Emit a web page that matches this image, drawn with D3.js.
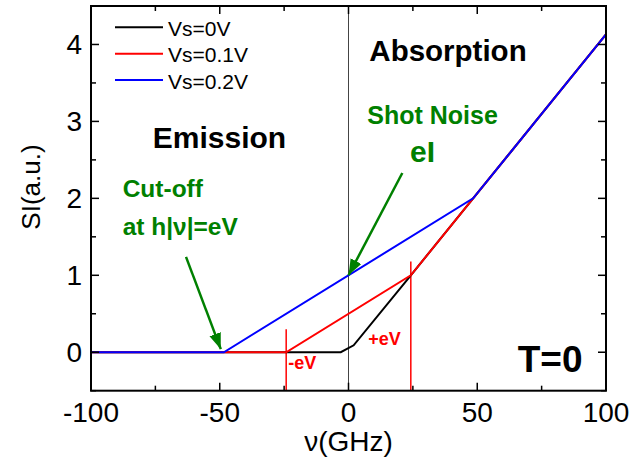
<!DOCTYPE html>
<html>
<head>
<meta charset="utf-8">
<script src="https://cdn.jsdelivr.net/npm/d3@7"></script>
<style>
  body { margin: 0; background: #fff; }
  svg text { font-family: "Liberation Sans", Arial, sans-serif; }
</style>
</head>
<body>
<svg width="632" height="464"></svg>
<script>
// series: frequency (GHz) and noise values
const seriesNames = ["Vs=0V", "Vs=0.1V", "Vs=0.2V"];
const seriesColors = ["#000000", "#ff0000", "#0000ff"];
const freqVs0 = [-100, -3, 2, 24.2, 48.4, 100];
const noiseVs0 = [0, 0, 0.09, 1, 2, 4.13];
const freqVs01 = [-100, -24.2, 24.2, 48.4, 100];
const noiseVs01 = [0, 0, 1, 2, 4.13];
const freqVs02 = [-100, -48.4, 48.4, 100];
const noiseVs02 = [0, 0, 2, 4.13];

const xTicks = [-100, -50, 0, 50, 100];
const xMinor = [-75, -25, 25, 75];
const yTicks = [0, 1, 2, 3, 4];
const yMinor = [-0.5, 0.5, 1.5, 2.5, 3.5, 4.5];

// eV markers (x, top y)
const markerFreq = [-24.2, 24.2];
const markerTop = [0.3, 1.18];
const markerLabels = ["-eV", "+eV"];

const svg = d3.select("svg");
const plotLeft = 91, plotRight = 606, plotTop = 6, plotBottom = 390.7;

const x = d3.scaleLinear().domain([-100, 100]).range([plotLeft, plotRight]);
const y = d3.scaleLinear().domain([-0.5, 4.5]).range([plotBottom, plotTop]);

const defs = svg.append("defs");
defs.append("marker")
  .attr("id", "arrow")
  .attr("markerUnits", "userSpaceOnUse")
  .attr("markerWidth", 20).attr("markerHeight", 14)
  .attr("refX", 16).attr("refY", 6)
  .attr("orient", "auto")
  .append("path")
  .attr("d", "M0,0 L16,6 L0,12 Z")
  .attr("fill", "#008000");

// vertical line at zero
svg.append("line")
  .attr("x1", x(0)).attr("x2", x(0))
  .attr("y1", plotTop).attr("y2", plotBottom)
  .attr("stroke", "#444").attr("stroke-width", 1);

// eV marker lines
markerFreq.forEach((f, i) => {
  svg.append("line")
    .attr("x1", x(f)).attr("x2", x(f))
    .attr("y1", y(markerTop[i])).attr("y2", plotBottom)
    .attr("stroke", "#ff0000").attr("stroke-width", 1.5);
});

// curves
const line = d3.line().x(d => x(d[0])).y(d => y(d[1]));
const series = [
  d3.zip(freqVs0, noiseVs0),
  d3.zip(freqVs01, noiseVs01),
  d3.zip(freqVs02, noiseVs02)
];
series.forEach((s, i) => {
  svg.append("path")
    .datum(s)
    .attr("d", line)
    .attr("fill", "none")
    .attr("stroke", seriesColors[i])
    .attr("stroke-width", 2);
});

// frame with inward ticks
const frame = svg.append("g");
frame.append("rect")
  .attr("x", plotLeft).attr("y", plotTop)
  .attr("width", plotRight - plotLeft).attr("height", plotBottom - plotTop)
  .attr("fill", "none").attr("stroke", "#000").attr("stroke-width", 2);

function tick(x1, y1, x2, y2) {
  frame.append("line")
    .attr("x1", x1).attr("y1", y1).attr("x2", x2).attr("y2", y2)
    .attr("stroke", "#000").attr("stroke-width", 1.5);
}
xTicks.forEach(t => { tick(x(t), plotBottom, x(t), plotBottom - 8); tick(x(t), plotTop, x(t), plotTop + 8); });
xMinor.forEach(t => { tick(x(t), plotBottom, x(t), plotBottom - 5); tick(x(t), plotTop, x(t), plotTop + 5); });
yTicks.forEach(t => { tick(plotLeft, y(t), plotLeft + 8, y(t)); tick(plotRight, y(t), plotRight - 8, y(t)); });
yMinor.forEach(t => { tick(plotLeft, y(t), plotLeft + 5, y(t)); tick(plotRight, y(t), plotRight - 5, y(t)); });

// tick labels
svg.selectAll(".xlab").data(xTicks).enter().append("text")
  .attr("x", d => x(d)).attr("y", 421.5)
  .attr("text-anchor", "middle")
  .attr("font-size", 28)
  .text(d => d);
svg.selectAll(".ylab").data(yTicks).enter().append("text")
  .attr("x", 82).attr("y", d => y(d))
  .attr("dy", "0.35em")
  .attr("text-anchor", "end")
  .attr("font-size", 28)
  .text(d => d);

// axis titles
svg.append("text")
  .attr("x", x(0)).attr("y", 451)
  .attr("text-anchor", "middle")
  .attr("font-size", 28)
  .text("\u03bd(GHz)");
svg.append("text")
  .attr("transform", "translate(40,187) rotate(-90)")
  .attr("text-anchor", "middle")
  .attr("font-size", 26)
  .text("SI(a.u.)");

// legend
seriesNames.forEach((name, i) => {
  const ly = 27.3 + i * 26.4;
  svg.append("line")
    .attr("x1", 115).attr("x2", 163)
    .attr("y1", ly).attr("y2", ly)
    .attr("stroke", seriesColors[i]).attr("stroke-width", 2);
  svg.append("text")
    .attr("x", 168).attr("y", ly + 8.7)
    .attr("font-size", 21)
    .text(name);
});

// annotations
function label(txt, fx, fy, size, color, bold) {
  svg.append("text")
    .attr("x", x(fx)).attr("y", y(fy))
    .attr("font-size", size)
    .attr("font-weight", bold ? "bold" : "normal")
    .attr("fill", color)
    .text(txt);
}
label("Emission", -76, 2.66, 30, "#000", true);
label("Absorption", 8.1, 3.79, 29.5, "#000", true);
label("Shot Noise", 7.3, 2.96, 25, "#008000", true);
label("eI", 23.9, 2.47, 30, "#008000", true);
label("Cut-off", -87.7, 2.02, 24.5, "#008000", true);
label("at h|\u03bd|=eV", -87.7, 1.52, 24.5, "#008000", true);
label("T=0", 65.7, -0.26, 37, "#000", true);
label(markerLabels[0], -23.4, -0.22, 18, "#ff0000", true);
label(markerLabels[1], 7.7, 0.1, 18, "#ff0000", true);

// arrows
const arrows = [
  [[-63.1, 1.24], [-49.6, 0.04]],
  [[20.9, 2.33], [0, 1.0]]
];
arrows.forEach(a => {
  svg.append("line")
    .attr("x1", x(a[0][0])).attr("y1", y(a[0][1]))
    .attr("x2", x(a[1][0])).attr("y2", y(a[1][1]))
    .attr("stroke", "#008000").attr("stroke-width", 2.5)
    .attr("marker-end", "url(#arrow)");
});
</script>
</body>
</html>
